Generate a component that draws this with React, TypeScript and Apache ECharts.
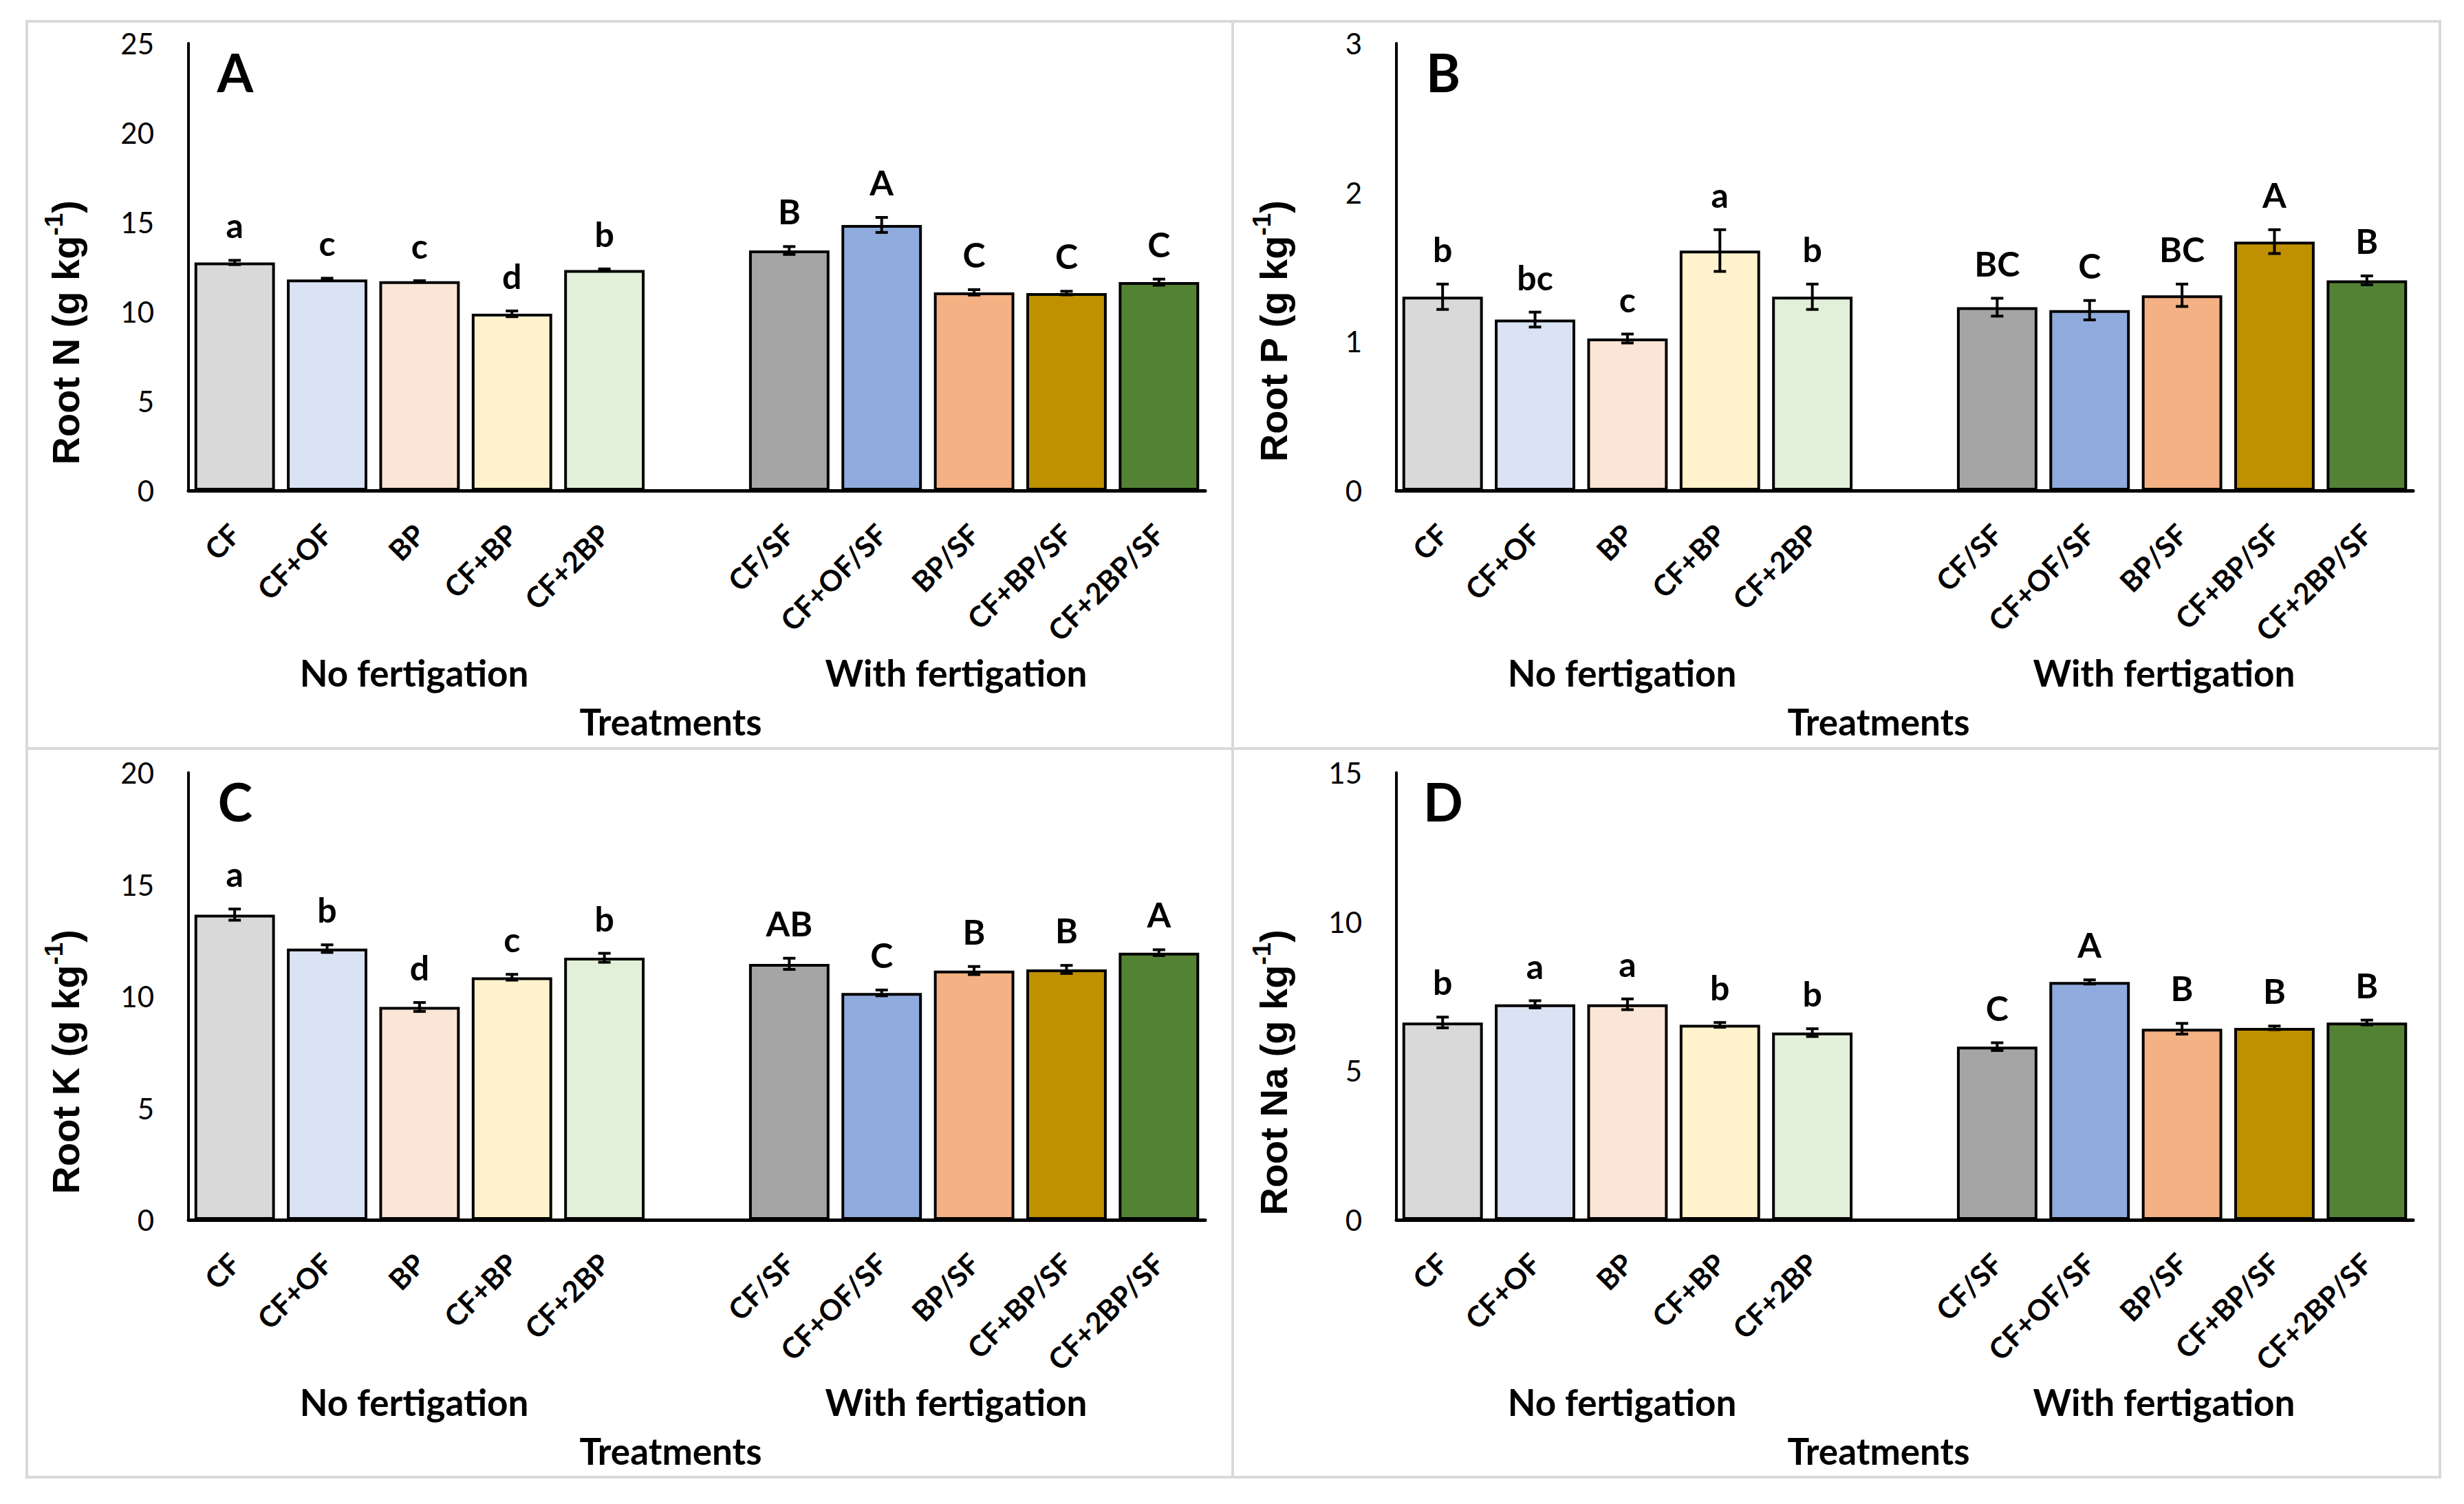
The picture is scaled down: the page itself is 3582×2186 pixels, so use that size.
import React, { useEffect, useRef } from 'react';
import * as echarts from 'echarts';

const W = 3582;
const H = 2186;

const catsNo = ['CF', 'CF+OF', 'BP', 'CF+BP', 'CF+2BP'];
const catsWith = ['CF/SF', 'CF+OF/SF', 'BP/SF', 'CF+BP/SF', 'CF+2BP/SF'];
const barColors = ['#d9d9d9', '#dae3f3', '#fbe5d6', '#fff2cc', '#e2f0d9', '#a5a5a5', '#8faadc', '#f4b183', '#bf9000', '#548235'];

const rootN = [12.75, 11.8, 11.7, 9.88, 12.33, 13.42, 14.85, 11.08, 11.04, 11.65];
const errN = [0.12, 0.07, 0.03, 0.16, 0.06, 0.22, 0.42, 0.15, 0.1, 0.17];
const lettersN = ['a', 'c', 'c', 'd', 'b', 'B', 'A', 'C', 'C', 'C'];

const rootP = [1.3, 1.147, 1.02, 1.61, 1.3, 1.23, 1.21, 1.31, 1.67, 1.41];
const errP = [0.085, 0.05, 0.03, 0.14, 0.085, 0.06, 0.065, 0.075, 0.08, 0.03];
const lettersP = ['b', 'bc', 'c', 'a', 'b', 'BC', 'C', 'BC', 'A', 'B'];

const rootK = [13.65, 12.13, 9.52, 10.85, 11.72, 11.45, 10.15, 11.15, 11.2, 11.95];
const errK = [0.25, 0.17, 0.2, 0.13, 0.2, 0.25, 0.13, 0.18, 0.18, 0.13];
const lettersK = ['a', 'b', 'd', 'c', 'b', 'AB', 'C', 'B', 'B', 'A'];

const rootNa = [6.62, 7.23, 7.23, 6.54, 6.28, 5.81, 7.98, 6.41, 6.44, 6.62];
const errNa = [0.18, 0.12, 0.18, 0.08, 0.13, 0.13, 0.07, 0.18, 0.06, 0.08];
const lettersNa = ['b', 'a', 'a', 'b', 'b', 'C', 'A', 'B', 'B', 'B'];

const yMax = [25, 3, 20, 15];
const yInterval = [5, 1, 5, 5];
const panelLetters = ['A', 'B', 'C', 'D'];
const yTitles = ['Root N (g kg', 'Root P (g kg', 'Root K (g kg', 'Root Na (g kg'];
const groupLabels = ['No fertigation', 'With fertigation'];
const xTitle = 'Treatments';

const FONT = 'Lato, "Open Sans", sans-serif';

export default function App() {
  const ref = useRef<HTMLDivElement>(null);

  useEffect(() => {
    if (!ref.current) return;
    const chart = echarts.init(ref.current, undefined, { renderer: 'svg', width: W, height: H });

    const allCats = [...catsNo, '', ...catsWith];
    const values = [rootN, rootP, rootK, rootNa];
    const errs = [errN, errP, errK, errNa];
    const letters = [lettersN, lettersP, lettersK, lettersNa];

    const lefts = [274, 2030, 274, 2030];
    const tops = [63, 63, 1123, 1123];
    const gw = 1478;
    const gh = 650;

    const grids: any[] = [];
    const xAxes: any[] = [];
    const yAxes: any[] = [];
    const series: any[] = [];
    const graphics: any[] = [];

    const borders = [
      { x: 39, y: 31, width: 1753, height: 1057 },
      { x: 1792, y: 31, width: 1755, height: 1057 },
      { x: 39, y: 1088, width: 1753, height: 1059 },
      { x: 1792, y: 1088, width: 1755, height: 1059 },
    ];
    borders.forEach((b) => {
      graphics.push({
        type: 'rect',
        shape: b,
        style: { fill: 'none', stroke: '#d9d9d9', lineWidth: 4 },
        z: 0,
      });
    });

    for (let p = 0; p < 4; p++) {
      const L = lefts[p];
      const T = tops[p];
      grids.push({ left: L, top: T, width: gw, height: gh, containLabel: false });
      xAxes.push({
        type: 'category',
        gridIndex: p,
        data: allCats,
        boundaryGap: true,
        axisLine: { show: true, lineStyle: { color: '#000', width: 5 } },
        axisTick: { show: false },
        splitLine: { show: false },
        axisLabel: {
          interval: 0,
          rotate: 45,
          margin: 56,
          color: '#000',
          fontFamily: FONT,
          fontWeight: 'bold',
          fontSize: 42,
        },
      });
      yAxes.push({
        type: 'value',
        gridIndex: p,
        min: 0,
        max: yMax[p],
        interval: yInterval[p],
        axisLine: { show: true, lineStyle: { color: '#000', width: 4 } },
        axisTick: { show: false },
        splitLine: { show: false },
        axisLabel: { color: '#000', fontFamily: FONT, fontSize: 42, margin: 50 },
      });

      const vals = values[p];
      const ers = errs[p];
      const lets = letters[p];
      const barData: any[] = [];
      const errData: any[] = [];
      for (let j = 0; j < 10; j++) {
        if (j === 5) barData.push('-');
        barData.push({ value: vals[j], itemStyle: { color: barColors[j] } });
        errData.push([j < 5 ? j : j + 1, vals[j], ers[j]]);
      }
      series.push({
        type: 'bar',
        xAxisIndex: p,
        yAxisIndex: p,
        data: barData,
        barCategoryGap: '13%',
        itemStyle: { borderColor: '#000', borderWidth: 4 },
        z: 2,
      });
      series.push({
        type: 'custom',
        xAxisIndex: p,
        yAxisIndex: p,
        data: errData,
        z: 5,
        renderItem: (params: any, api: any) => {
          const idx = params.dataIndex;
          const x = api.value(0);
          const v = api.value(1);
          const e = api.value(2);
          const pt = api.coord([x, v + e]);
          const pb = api.coord([x, v - e]);
          const cx = pt[0];
          const cap = 9;
          const st = { stroke: '#000', lineWidth: 4 };
          return {
            type: 'group',
            children: [
              { type: 'line', shape: { x1: cx, y1: pt[1], x2: cx, y2: pb[1] }, style: st },
              { type: 'line', shape: { x1: cx - cap, y1: pt[1], x2: cx + cap, y2: pt[1] }, style: st },
              { type: 'line', shape: { x1: cx - cap, y1: pb[1], x2: cx + cap, y2: pb[1] }, style: st },
              {
                type: 'text',
                x: cx,
                y: pt[1] - 26,
                style: {
                  text: lets[idx],
                  fill: '#000',
                  fontSize: 50,
                  fontWeight: 'bold',
                  fontFamily: FONT,
                  align: 'center',
                  verticalAlign: 'bottom',
                },
              },
            ],
          };
        },
      });

      graphics.push({
        type: 'text',
        x: L + 68,
        y: T + 41,
        style: {
          text: panelLetters[p],
          fill: '#000',
          fontSize: 76,
          fontWeight: 'bold',
          fontFamily: FONT,
          align: 'center',
          verticalAlign: 'middle',
        },
      });

      graphics.push({
        type: 'text',
        x: L - 179,
        y: T + 228,
        rotation: Math.PI / 2,
        style: {
          text: '{a|' + yTitles[p] + '}{b|-1}{a|)}',
          align: 'right',
          verticalAlign: 'middle',
          rich: {
            a: { fontSize: 56, fontWeight: 'bold', fontFamily: '"Liberation Sans", Arial, sans-serif', fill: '#000', lineHeight: 70 },
            b: { fontSize: 37, fontWeight: 'bold', fontFamily: '"Liberation Sans", Arial, sans-serif', fill: '#000', lineHeight: 40, verticalAlign: 'top' },
          },
        },
      });

      const axisBottom = T + gh;
      const groupX = [L + 328, L + 1116];
      groupLabels.forEach((g, k) => {
        graphics.push({
          type: 'text',
          x: groupX[k],
          y: axisBottom + 264,
          style: {
            text: g,
            fill: '#000',
            fontSize: 53,
            fontWeight: 'bold',
            fontFamily: FONT,
            align: 'center',
            verticalAlign: 'middle',
          },
        });
      });
      graphics.push({
        type: 'text',
        x: L + 701,
        y: axisBottom + 335,
        style: {
          text: xTitle,
          fill: '#000',
          fontSize: 53,
          fontWeight: 'bold',
          fontFamily: FONT,
          align: 'center',
          verticalAlign: 'middle',
        },
      });
    }

    chart.setOption({
      animation: false,
      backgroundColor: '#ffffff',
      grid: grids,
      xAxis: xAxes,
      yAxis: yAxes,
      series,
      graphic: { elements: graphics },
    });

    return () => {
      chart.dispose();
    };
  }, []);

  return (
    <div
      ref={ref}
      style={{ position: 'fixed', left: 0, top: 0, width: W, height: H, background: '#fff' }}
    />
  );
}
